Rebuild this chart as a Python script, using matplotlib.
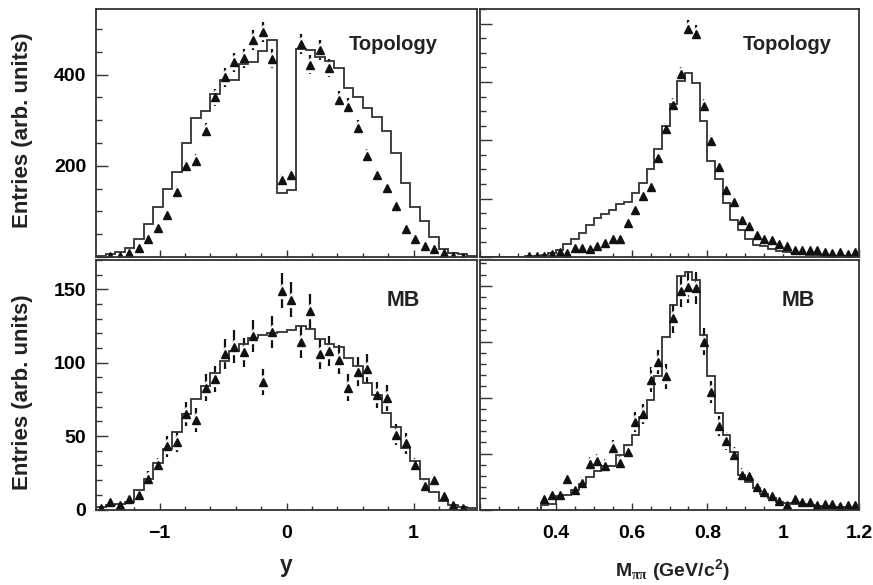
import numpy as np
import matplotlib
matplotlib.use("Agg")
import matplotlib.pyplot as plt
from matplotlib.ticker import MultipleLocator, FixedLocator

plt.rcParams['font.family'] = ['Liberation Sans', 'DejaVu Sans']
plt.rcParams['font.weight'] = 'bold'
plt.rcParams['mathtext.fontset'] = 'custom'
plt.rcParams['mathtext.rm'] = 'Liberation Sans:bold'
plt.rcParams['mathtext.it'] = 'Liberation Serif'
plt.rcParams['mathtext.bf'] = 'Liberation Sans:bold'
plt.rcParams['mathtext.default'] = 'rm'

# ---------------- data ----------------
# rapidity y : 40 bins from -1.5 to 1.5
y_lo, y_hi, y_nbins = -1.5, 1.5, 40
# invariant mass : 50 bins from 0.2 to 1.2 GeV/c^2
m_lo, m_hi, m_nbins = 0.2, 1.2, 50

# Topology, rapidity
mc_topo_y = [2, 7, 11, 20, 40, 73, 110, 150, 187, 250, 304, 320, 357, 388, 388, 423, 427, 452, 475, 140,
             148, 457, 454, 438, 431, 414, 370, 350, 326, 308, 277, 229, 162, 110, 80, 44, 18, 9, 7, 3]
data_topo_y = [0, 2, 3, 8, 20, 40, 64, 93, 143, 199, 211, 277, 350, 394, 427, 436, 476, 494, 435, 170,
               179, 468, 422, 454, 414, 345, 330, 284, 221, 180, 151, 111, 62, 40, 24, 17, 8, 3, 1, 0]
err_topo_y = [0, 1, 2, 3, 4, 6, 8, 10, 12, 14, 15, 17, 19, 20, 21, 21, 22, 22, 21, 13,
              13, 22, 21, 21, 20, 19, 18, 17, 15, 13, 12, 11, 8, 6, 5, 4, 3, 2, 1, 0]

# Topology, mass
mc_topo_m = [0, 0, 0, 0, 0, 1, 2, 4, 6, 12, 24, 44, 63, 82, 109, 132, 149, 160, 180, 189,
             220, 254, 302, 369, 449, 526, 602, 631, 595, 467, 329, 266, 185, 128, 93, 61, 41, 36, 26, 22,
             16, 12, 10, 8, 6, 5, 4, 3, 3, 2]
data_topo_m = [0, 0, 0, 0, 0, 0, 2, 2, 4, 10, 18, 12, 30, 32, 26, 36, 47, 61, 62, 118,
               160, 208, 240, 338, 438, 521, 626, 783, 766, 518, 397, 309, 229, 187, 128, 107, 75, 61, 59, 45,
               36, 24, 24, 24, 24, 16, 15, 16, 10, 16]
err_topo_m = [0, 0, 0, 0, 0, 0, 1, 1, 2, 3, 4, 3, 5, 6, 5, 6, 7, 8, 8, 11,
              13, 14, 15, 18, 21, 23, 25, 28, 28, 23, 20, 18, 15, 14, 11, 10, 9, 8, 8, 7,
              6, 5, 5, 5, 5, 4, 4, 4, 3, 4]

# MB, rapidity
mc_mb_y = [2, 3, 4, 5, 13, 21, 32, 41, 53, 65, 75, 84, 93, 101, 108, 113, 117, 119, 120, 121,
           122, 125, 123, 116, 113, 111, 103, 98, 86, 78, 66, 56, 42, 33, 21, 12, 6, 3, 2, 1]
data_mb_y = [1, 5, 3, 7, 10, 21, 30, 43, 46, 65, 61, 83, 89, 106, 111, 107, 118, 87, 121, 149,
             143, 114, 135, 106, 108, 102, 83, 94, 96, 78, 76, 51, 45, 30, 16, 20, 9, 3, 1, 0]
err_mb_y = [1, 2, 2, 3, 3, 5, 5, 7, 7, 8, 8, 9, 9, 10, 11, 10, 11, 9, 11, 12,
            12, 11, 12, 10, 10, 10, 9, 10, 10, 9, 9, 7, 7, 5, 4, 4, 3, 2, 1, 0]

# MB, mass
mc_mb_m = [0, 0, 0, 0, 0, 0, 0, 0, 4, 5, 12, 13, 17, 23, 29, 34, 39, 39, 49, 58,
           67, 83, 98, 119, 154, 183, 209, 212, 205, 156, 119, 86, 67, 51, 31, 25, 19, 14, 10, 7,
           6, 5, 5, 4, 3, 3, 2, 2, 2, 1]
data_mb_m = [0, 0, 0, 0, 0, 0, 0, 0, 9, 13, 13, 27, 17, 24, 41, 43, 39, 55, 42, 51,
             78, 85, 116, 132, 119, 171, 195, 199, 198, 150, 105, 75, 61, 49, 31, 30, 20, 16, 12, 8,
             4, 9, 7, 7, 4, 5, 5, 3, 4, 4]
err_mb_m = [0, 0, 0, 0, 0, 0, 0, 0, 3, 4, 4, 5, 4, 5, 6, 7, 6, 7, 6, 7,
            9, 9, 11, 11, 11, 13, 14, 14, 14, 12, 10, 9, 8, 7, 6, 5, 4, 4, 3, 3,
            2, 3, 3, 3, 2, 2, 2, 2, 2, 2]

y_ticks_labels = ['\u22121', '0', '1']
m_ticks_labels = ['0.4', '0.6', '0.8', '1', '1.2']

# ---------------- figure ----------------
W, H = 873, 585
fig = plt.figure(figsize=(W / 100, H / 100), dpi=100)

def px_axes(x0, y0, x1, y1):
    return fig.add_axes([x0 / W, 1 - y1 / H, (x1 - x0) / W, (y1 - y0) / H])

ax_tl = px_axes(96, 9, 477, 257)
ax_tr = px_axes(480, 9, 859, 257)
ax_bl = px_axes(96, 260, 477, 509.5)
ax_br = px_axes(480, 260, 859, 509.5)

line_col = '#333333'
mark_col = '#111111'

def draw(ax, lo, hi, nb, mc, data, err):
    edges = np.linspace(lo, hi, nb + 1)
    centers = 0.5 * (edges[:-1] + edges[1:])
    d = np.array(data, float)
    e = np.array(err, float)
    keep = d > 0
    ax.errorbar(centers[keep], d[keep], yerr=e[keep], fmt='none', ecolor=mark_col,
                elinewidth=1.6, capsize=0, zorder=2)
    ax.plot(centers[keep], d[keep], linestyle='none', marker='^', ms=9.5,
            color='white', mec='white', zorder=3)
    ax.stairs(mc, edges, color=line_col, lw=1.3, zorder=4)
    ax.plot(centers[keep], d[keep], linestyle='none', marker='^', ms=6.3,
            color=mark_col, mec=mark_col, zorder=5)
    ax.set_xlim(lo, hi)
    for s in ax.spines.values():
        s.set_linewidth(1.3)
        s.set_color(line_col)
        s.set_zorder(6)

draw(ax_tl, y_lo, y_hi, y_nbins, mc_topo_y, data_topo_y, err_topo_y)
draw(ax_tr, m_lo, m_hi, m_nbins, mc_topo_m, data_topo_m, err_topo_m)
draw(ax_bl, y_lo, y_hi, y_nbins, mc_mb_y, data_mb_y, err_mb_y)
draw(ax_br, m_lo, m_hi, m_nbins, mc_mb_m, data_mb_m, err_mb_m)

ax_tl.set_ylim(0, 544)
ax_tr.set_ylim(0, 850)
ax_bl.set_ylim(0, 170)
ax_br.set_ylim(0, 223)

for ax in (ax_tl, ax_tr, ax_bl, ax_br):
    ax.tick_params(which='both', direction='in', top=False, right=False,
                   color=line_col, width=1.0, labelsize=14)
    ax.tick_params(axis='y', which='major', length=8.6, pad=7)
    ax.tick_params(axis='y', which='minor', length=4.3)
    ax.tick_params(axis='x', which='major', length=5.2, pad=11)
    ax.tick_params(axis='x', which='minor', length=3.0)

for ax in (ax_tl, ax_bl):
    ax.xaxis.set_major_locator(FixedLocator([-1, 0, 1]))
    ax.xaxis.set_minor_locator(MultipleLocator(0.2))
for ax in (ax_tr, ax_br):
    ax.xaxis.set_major_locator(FixedLocator([0.2, 0.4, 0.6, 0.8, 1.0, 1.2]))
    ax.xaxis.set_minor_locator(MultipleLocator(0.05))

ax_tl.set_xticklabels([])
ax_tr.set_xticklabels([])
ax_bl.set_xticklabels(y_ticks_labels)
ax_br.set_xticklabels([''] + m_ticks_labels)

ax_tl.yaxis.set_major_locator(FixedLocator([0, 200, 400]))
ax_tl.yaxis.set_minor_locator(MultipleLocator(50))
ax_tl.set_yticklabels(['', '200', '400'])
ax_tr.yaxis.set_major_locator(MultipleLocator(200))
ax_tr.yaxis.set_minor_locator(MultipleLocator(50))
ax_tr.set_yticklabels([])
ax_bl.yaxis.set_major_locator(FixedLocator([0, 50, 100, 150]))
ax_bl.yaxis.set_minor_locator(MultipleLocator(10))
ax_bl.set_yticklabels(['0', '50', '100', '150'])
ax_br.yaxis.set_major_locator(MultipleLocator(50))
ax_br.yaxis.set_minor_locator(MultipleLocator(10))
ax_br.set_yticklabels([])

# panel labels
ax_tl.text(0.896, 0.855, 'Topology', transform=ax_tl.transAxes, ha='right', va='center',
           fontsize=14.5, fontweight='bold', color='#222222')
ax_tr.text(0.929, 0.855, 'Topology', transform=ax_tr.transAxes, ha='right', va='center',
           fontsize=14.5, fontweight='bold', color='#222222')
ax_bl.text(0.851, 0.836, 'MB', transform=ax_bl.transAxes, ha='right', va='center',
           fontsize=15.5, fontweight='bold', color='#222222')
ax_br.text(0.884, 0.836, 'MB', transform=ax_br.transAxes, ha='right', va='center',
           fontsize=15.5, fontweight='bold', color='#222222')

# axis titles
fig.text(23 / W, 1 - 130 / H, 'Entries (arb. units)', rotation=90, ha='center', va='center',
         fontsize=16, fontweight='bold', color='#222222')
fig.text(23 / W, 1 - 392 / H, 'Entries (arb. units)', rotation=90, ha='center', va='center',
         fontsize=16, fontweight='bold', color='#222222')
fig.text(286 / W, 1 - 572 / H, 'y', ha='center', va='baseline',
         fontsize=16.5, fontweight='bold', color='#222222')
fig.text(672 / W, 1 - 576 / H, r'M$_{\mathit{\pi\pi}}$ (GeV/c$^{2}$)', ha='center', va='baseline',
         fontsize=14, fontweight='bold', color='#222222')

fig.savefig('out.png', dpi=100)
